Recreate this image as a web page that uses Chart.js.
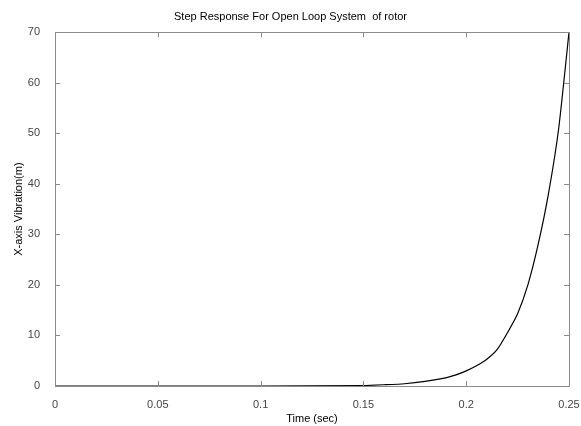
<!DOCTYPE html>
<html>
<head>
<meta charset="utf-8">
<script src="https://cdn.jsdelivr.net/npm/chart.js@4"></script>
<style>
  html, body { margin: 0; padding: 0; background: #fff; }
  #wrap { width: 581px; height: 426px; }
</style>
</head>
<body>
<div id="wrap"><canvas id="c" width="581" height="426"></canvas></div>
<script>
// valores
let tempo = [0, 0.05, 0.1, 0.15, 0.16, 0.17, 0.18, 0.19, 0.195, 0.2, 0.205, 0.21, 0.215, 0.22, 0.225, 0.23, 0.235, 0.24, 0.245, 0.25];
let vibracao = [0, 0, 0, 0.1, 0.25, 0.45, 0.9, 1.6, 2.2, 3.0, 4.0, 5.3, 7.2, 10.5, 14.3, 20, 28, 38, 51, 70];
let ticksX = [0, 0.05, 0.1, 0.15, 0.2, 0.25];
let ticksY = [0, 10, 20, 30, 40, 50, 60, 70];

let pontos = tempo.map((t, i) => ({ x: t, y: vibracao[i] }));
let fonte = { family: 'Arial, "Liberation Sans", sans-serif', size: 11, weight: 'normal' };

// caixa em volta da area e ticks para dentro (estilo matlab)
const caixa = {
    id: 'caixa',
    afterDatasetsDraw(chart) {
        let ctx = chart.ctx;
        let a = chart.chartArea;
        let sx = chart.scales.x, sy = chart.scales.y;
        ctx.save();
        ctx.strokeStyle = '#8a8a8a';
        ctx.lineWidth = 1;
        ctx.strokeRect(Math.round(a.left) + 0.5, Math.round(a.top) + 0.5, Math.round(a.right - a.left), Math.round(a.bottom - a.top));
        ctx.beginPath();
        ticksX.forEach(v => {
            let px = Math.round(sx.getPixelForValue(v)) + 0.5;
            ctx.moveTo(px, a.bottom); ctx.lineTo(px, a.bottom - 5);
            ctx.moveTo(px, a.top); ctx.lineTo(px, a.top + 5);
        });
        ticksY.forEach(v => {
            let py = Math.round(sy.getPixelForValue(v)) + 0.5;
            ctx.moveTo(a.left, py); ctx.lineTo(a.left + 5, py);
            ctx.moveTo(a.right, py); ctx.lineTo(a.right - 5, py);
        });
        ctx.stroke();
        ctx.restore();
    }
};

new Chart(document.getElementById('c'), {
    type: 'line',
    data: {
        datasets: [{
            data: pontos,
            borderColor: '#000',
            borderWidth: 1.2,
            pointRadius: 0,
            tension: 0.2,
            fill: false
        }]
    },
    options: {
        responsive: false,
        animation: false,
        layout: { padding: { top: 0, right: 0, left: 0, bottom: 0 } },
        plugins: {
            legend: { display: false },
            tooltip: { enabled: false },
            title: {
                display: true,
                text: 'Step Response For Open Loop System  of rotor',
                color: '#000',
                font: fonte,
                padding: { top: 10, bottom: 9 }
            }
        },
        scales: {
            x: {
                type: 'linear',
                min: 0,
                max: 0.25,
                afterBuildTicks: s => { s.ticks = ticksX.map(v => ({ value: v })); },
                afterFit: s => { s.height = 40; s.paddingRight = 12; },
                grid: { display: false },
                border: { display: false },
                ticks: {
                    color: '#444',
                    font: fonte,
                    padding: 4,
                    maxRotation: 0,
                    callback: v => String(v)
                },
                title: {
                    display: true,
                    text: 'Time (sec)',
                    color: '#000',
                    font: fonte,
                    padding: { top: 5, bottom: 0 }
                }
            },
            y: {
                min: 0,
                max: 70,
                afterBuildTicks: s => { s.ticks = ticksY.map(v => ({ value: v })); },
                afterFit: s => { s.width = 55; },
                grid: { display: false },
                border: { display: false },
                ticks: {
                    color: '#444',
                    font: fonte,
                    padding: 7
                },
                title: {
                    display: true,
                    text: 'X-axis Vibration(m)',
                    color: '#000',
                    font: fonte,
                    padding: { top: 12, bottom: 0 }
                }
            }
        }
    },
    plugins: [caixa]
});
</script>
</body>
</html>
